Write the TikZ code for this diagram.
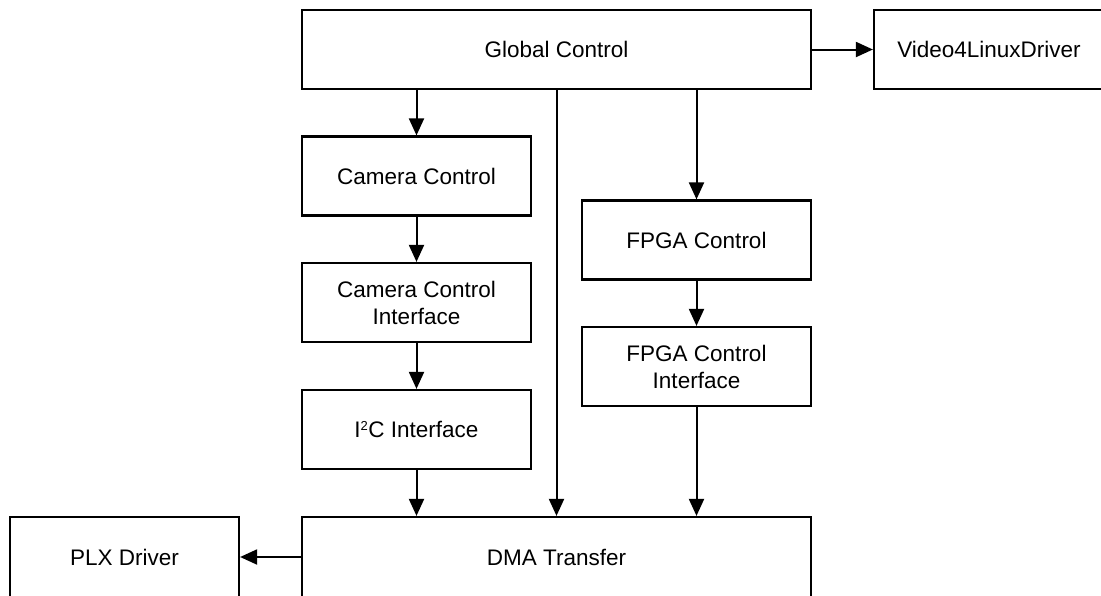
\documentclass[tikz,border=0pt]{standalone}
\usepackage{fontspec}
\setmainfont{Liberation Sans}
\usetikzlibrary{arrows.meta}
\begin{document}
\begin{tikzpicture}[x=1pt,y=-1pt,
  blk/.style={draw=black,line width=2.2pt,minimum height=79pt,inner sep=0pt,align=center,font=\fontsize{22.5}{27}\selectfont},
  conn/.style={line width=2pt,-{Triangle[length=17pt,width=15pt]}}]
\useasboundingbox (0,0) rectangle (1101,595);
\fill[white] (0,0) rectangle (1101,595);
\node[blk,minimum width=509pt] (global) at (556.5,49.5) {Global Control};
\node[blk,minimum width=230pt] (v4l) at (989,49.5) {Video4LinuxDriver};
\node[blk,minimum width=229pt] (camera) at (416.5,176) {Camera Control};
\node[blk,minimum width=229pt] (cci) at (416.5,302.5) {Camera Control\\Interface};
\node[blk,minimum width=229pt] (i2c) at (416.5,429.5) {I\textsuperscript{\fontsize{13}{13}\selectfont 2}C Interface};
\node[blk,minimum width=229pt] (fpga) at (696.5,240) {FPGA Control};
\node[blk,minimum width=229pt] (fci) at (696.5,366.5) {FPGA Control\\Interface};
\node[blk,minimum width=509pt,minimum height=80pt] (dma) at (556.5,557) {DMA Transfer};
\node[blk,minimum width=229pt,minimum height=80pt] (plx) at (124.5,557) {PLX Driver};
\draw[conn] (global.east) -- (v4l.west);
\draw[conn] (global.south -| camera.north) -- (camera.north);
\draw[conn] (camera.south) -- (cci.north);
\draw[conn] (cci.south) -- (i2c.north);
\draw[conn] (i2c.south) -- (i2c.south |- dma.north);
\draw[conn] (global.south) -- (dma.north);
\draw[conn] (global.south -| fpga.north) -- (fpga.north);
\draw[conn] (fpga.south) -- (fci.north);
\draw[conn] (fci.south) -- (fci.south |- dma.north);
\draw[conn] (dma.west) -- (plx.east);
\end{tikzpicture}
\end{document}
